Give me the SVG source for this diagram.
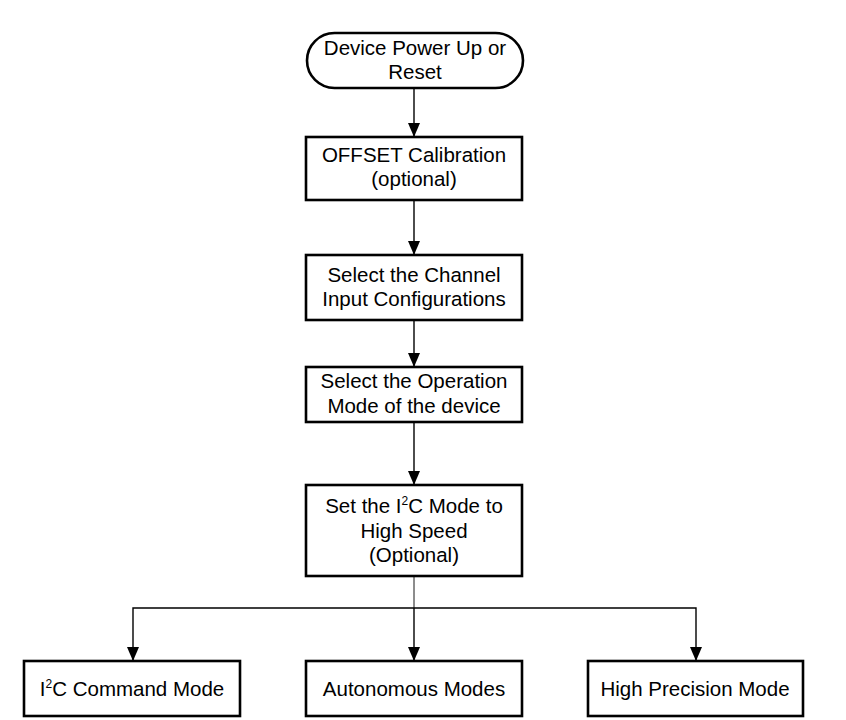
<svg xmlns="http://www.w3.org/2000/svg" width="846" height="720" viewBox="0 0 846 720">
<style>
.box{fill:#fff;stroke:#000;stroke-width:2.6}
.t{font-family:"Liberation Sans",Arial,sans-serif;font-size:20.5px;fill:#000;text-anchor:middle}
.c{fill:none;stroke:#000;stroke-width:1.4}
.thin{fill:none;stroke:#000;stroke-width:0.9}
.sup{font-size:12px}
</style>
<defs>
<marker id="ah" markerUnits="userSpaceOnUse" markerWidth="14" markerHeight="12" refX="14" refY="6" orient="auto" viewBox="0 0 14 12">
<path d="M0,0 L14,6 L0,12 Z" fill="#000"/>
</marker>
</defs>
<rect width="846" height="720" fill="#fff"/>
<g id="connectors">
<line class="c" x1="414" y1="89" x2="414" y2="137" marker-end="url(#ah)"/>
<line class="c" x1="414" y1="201" x2="414" y2="255" marker-end="url(#ah)"/>
<line class="c" x1="414" y1="321" x2="414" y2="367" marker-end="url(#ah)"/>
<line class="c" x1="414" y1="423" x2="414" y2="485" marker-end="url(#ah)"/>
<line class="thin" x1="414" y1="577" x2="414" y2="608"/>
<polyline class="c" points="414,608 133,608 133,661" marker-end="url(#ah)"/>
<polyline class="c" points="414,608 696,608 696,661" marker-end="url(#ah)"/>
<line class="c" x1="414" y1="608" x2="414" y2="661" marker-end="url(#ah)"/>
</g>
<g id="start">
<rect class="box" x="307" y="33" width="216" height="55" rx="27.5" ry="27.5"/>
<text class="t" x="415" y="55">Device Power Up or</text>
<text class="t" x="415" y="79">Reset</text>
</g>
<g id="offset">
<rect class="box" x="306" y="137" width="216" height="63"/>
<text class="t" x="414" y="162">OFFSET Calibration</text>
<text class="t" x="414" y="186">(optional)</text>
</g>
<g id="channel">
<rect class="box" x="306" y="255" width="216" height="65"/>
<text class="t" x="414" y="282">Select the Channel</text>
<text class="t" x="414" y="306">Input Configurations</text>
</g>
<g id="opmode">
<rect class="box" x="306" y="367" width="216" height="55"/>
<text class="t" x="414" y="388">Select the Operation</text>
<text class="t" x="414" y="413">Mode of the device</text>
</g>
<g id="i2cspeed">
<rect class="box" x="306" y="485" width="216" height="91"/>
<text class="t" x="414" y="513">Set the I<tspan class="sup" dy="-8">2</tspan><tspan dy="8">C Mode to</tspan></text>
<text class="t" x="414" y="538">High Speed</text>
<text class="t" x="414" y="562">(Optional)</text>
</g>
<g id="cmdmode">
<rect class="box" x="24" y="661" width="216" height="55"/>
<text class="t" x="132" y="696">I<tspan class="sup" dy="-8">2</tspan><tspan dy="8">C Command Mode</tspan></text>
</g>
<g id="automodes">
<rect class="box" x="306" y="661" width="216" height="55"/>
<text class="t" x="414" y="696">Autonomous Modes</text>
</g>
<g id="hpmode">
<rect class="box" x="588" y="661" width="215" height="55"/>
<text class="t" x="695" y="696">High Precision Mode</text>
</g>
</svg>
